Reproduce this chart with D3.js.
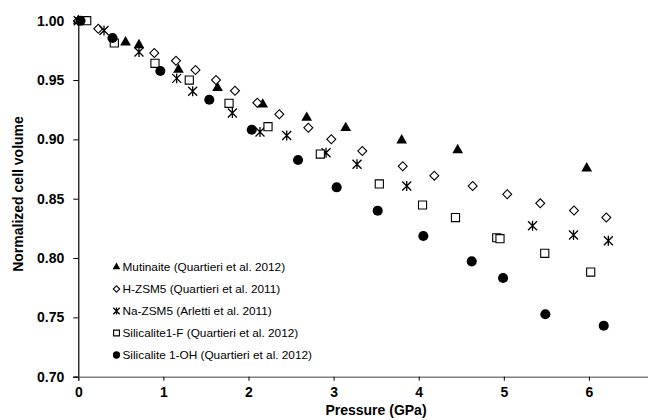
<!DOCTYPE html>
<html><head><meta charset="utf-8">
<script src="https://cdn.jsdelivr.net/npm/d3@7"></script>
<style>body{margin:0;background:#fff}svg{display:block}text{font-family:"Liberation Sans",Arial,sans-serif}</style>
</head><body><svg id="c" width="648" height="420"></svg>
<script>
const xTicks = [0,1,2,3,4,5,6];
const yTicks = [0.70,0.75,0.80,0.85,0.90,0.95,1.00];
const seriesNames = ["Mutinaite (Quartieri et al. 2012)","H-ZSM5 (Quartieri et al. 2011)","Na-ZSM5 (Arletti et al. 2011)","Silicalite1-F (Quartieri et al. 2012)","Silicalite 1-OH (Quartieri et al. 2012)"];
const mutinaiteP = [0,0.555,0.713,1.177,1.636,2.167,2.684,3.142,3.800,4.458,5.974];
const mutinaiteV = [1.0,0.9818,0.9795,0.9588,0.9433,0.9295,0.9182,0.9096,0.8992,0.8910,0.8756];
const hzsmP = [0,0.235,0.893,1.148,1.377,1.618,1.841,2.103,2.362,2.703,2.973,3.337,3.812,4.183,4.634,5.040,5.428,5.825,6.204];
const hzsmV = [1.0,0.9932,0.9728,0.9662,0.9584,0.9500,0.9410,0.9309,0.9212,0.9098,0.9001,0.8902,0.8773,0.8694,0.8607,0.8538,0.8461,0.8400,0.8341];
const nazsmP = [0,0.302,0.713,1.156,1.344,1.810,2.135,2.449,2.911,3.275,3.859,5.337,5.819,6.228];
const nazsmV = [1.0,0.9917,0.9736,0.9514,0.9405,0.9222,0.9062,0.9032,0.8887,0.8791,0.8607,0.8272,0.8194,0.8146];
const silFP = [0.099,0.423,0.901,1.304,1.771,2.229,2.844,3.537,4.045,4.432,4.917,4.955,5.481,6.021];
const silFV = [1.0,0.9812,0.9641,0.9500,0.9304,0.9107,0.8876,0.8624,0.8447,0.8341,0.8171,0.8163,0.8040,0.7882];
const silOHP = [0.026,0.402,0.964,1.539,2.038,2.582,3.036,3.518,4.054,4.623,4.991,5.488,6.174];
const silOHV = [1.0,0.9854,0.9576,0.9334,0.9081,0.8826,0.8596,0.8399,0.8186,0.7972,0.7832,0.7526,0.7430];

const series = [
  {name:seriesNames[0], P:mutinaiteP, V:mutinaiteV, sym:d3.symbolTriangle, size:50, fill:"#000", stroke:"none"},
  {name:seriesNames[1], P:hzsmP, V:hzsmV, sym:"diamond", size:40, fill:"#fff", stroke:"#000"},
  {name:seriesNames[2], P:nazsmP, V:nazsmV, sym:"star", size:9, fill:"none", stroke:"#000"},
  {name:seriesNames[3], P:silFP, V:silFV, sym:d3.symbolSquare, size:66, fill:"#fff", stroke:"#000"},
  {name:seriesNames[4], P:silOHP, V:silOHV, sym:d3.symbolCircle, size:80, fill:"#000", stroke:"none"}
];

const svg = d3.select("#c");
const x = d3.scaleLinear().domain([0,6.7]).range([78.3,648.5]);
const y = d3.scaleLinear().domain([0.70,1.00]).range([376.7,20.7]);
const FONT = "'Liberation Sans',Arial,sans-serif";

// y axis
const ya = svg.append("g").attr("transform","translate(78.3,0)")
  .call(d3.axisLeft(y).tickValues(yTicks).tickFormat(d3.format(".2f")).tickSizeOuter(0).tickSize(5));
ya.select(".domain").attr("stroke","#000").attr("stroke-width",1.2);
ya.selectAll(".tick line").attr("stroke","#000");
ya.selectAll("text").attr("font-size",14).attr("font-weight","bold").attr("fill","#000").attr("x",-14).attr("font-family",FONT);

// x axis
const xa = svg.append("g").attr("transform","translate(0,376.7)")
  .call(d3.axisBottom(x).tickValues(xTicks).tickFormat(d3.format("d")).tickSizeOuter(0).tickSize(4));
xa.select(".domain").attr("stroke","#808080").attr("stroke-width",1.5);
xa.selectAll(".tick line").attr("stroke","#000");
xa.selectAll("text").attr("font-size",14).attr("font-weight","bold").attr("fill","#000").attr("y",10).attr("font-family",FONT);

// titles
svg.append("text").attr("x",376).attr("y",415).attr("text-anchor","middle")
  .attr("font-size",14).attr("font-weight","bold").text("Pressure (GPa)");
svg.append("text").attr("transform","translate(23,194) rotate(-90)").attr("text-anchor","middle")
  .attr("font-size",14).attr("font-weight","bold").text("Normalized cell volume");

function drawMarker(g, s, cx, cy, scale){
  scale = scale || 1;
  if (s.sym === "star") {
    const r = s.size/2*scale;
    const p = `M${cx-r},${cy-r}L${cx+r},${cy+r}M${cx-r},${cy+r}L${cx+r},${cy-r}M${cx},${cy-r*1.1}L${cx},${cy+r*1.1}`;
    g.append("path").attr("d",p).attr("stroke","#000").attr("stroke-width",1.3).attr("fill","none");
  } else if (s.sym === "diamond") {
    const gen = d3.symbol().type(d3.symbolSquare).size(s.size*scale*scale);
    g.append("path").attr("d",gen())
      .attr("transform",`translate(${cx},${cy}) rotate(45)`)
      .attr("fill",s.fill).attr("stroke",s.stroke).attr("stroke-width",1.1);
  } else {
    const gen = d3.symbol().type(s.sym).size(s.size*scale*scale);
    g.append("path").attr("d",gen())
      .attr("transform",`translate(${cx},${cy})`)
      .attr("fill",s.fill).attr("stroke",s.stroke).attr("stroke-width",1.1);
  }
}

const plot = svg.append("g");
series.forEach(s=>{
  const g = plot.append("g");
  s.P.forEach((p,i)=>drawMarker(g,s,x(p),y(s.V[i])));
});

// legend
const legY = [267,289,311,333,355];
const leg = svg.append("g");
series.forEach((s,i)=>{
  drawMarker(leg,s,116.5,legY[i],0.72);
  leg.append("text").attr("x",122.5).attr("y",legY[i]+4).attr("font-size",11.8).attr("fill","#000").text(s.name);
});
</script></body></html>
